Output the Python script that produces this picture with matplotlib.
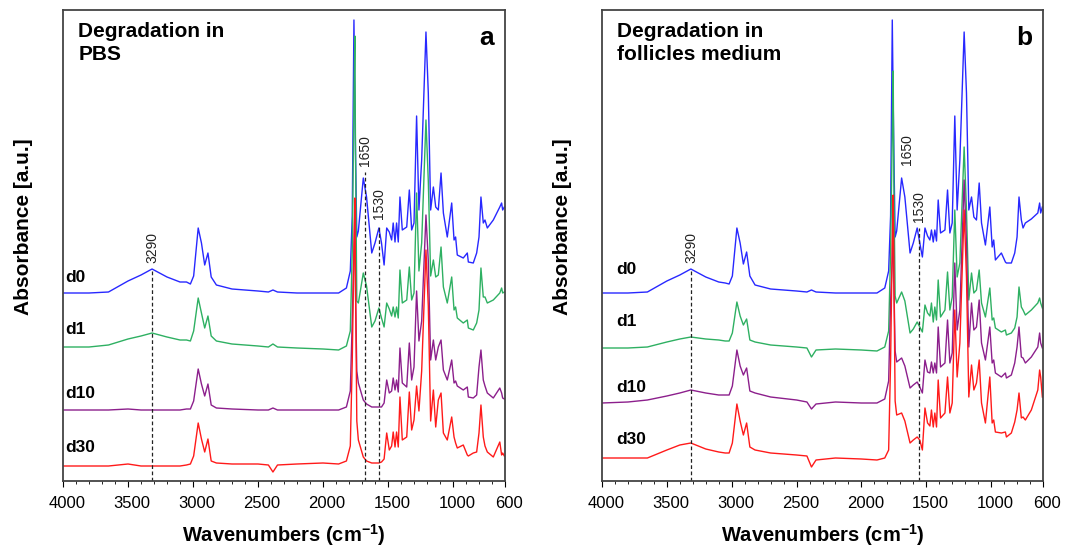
import matplotlib
matplotlib.use("Agg")
import matplotlib.pyplot as plt
from matplotlib.ticker import MultipleLocator
from matplotlib.transforms import ScaledTranslation

plt.rcParams['font.family'] = ['Liberation Sans', 'DejaVu Sans']
plt.rcParams['mathtext.fontset'] = 'custom'
plt.rcParams['mathtext.rm'] = 'Liberation Sans'
plt.rcParams['mathtext.bf'] = 'Liberation Sans:bold'

# Wavenumber grid (cm-1) shared by every spectrum
wavenumbers = [4000, 3800, 3650, 3500, 3400, 3315, 3200, 3100, 3050, 3020,
               2995, 2960, 2935, 2910, 2885, 2860, 2820, 2700, 2500, 2420,
               2385, 2350, 2200, 2000, 1880, 1820, 1790, 1775, 1762, 1755,
               1750, 1740, 1728, 1690, 1665, 1625, 1600, 1570, 1550, 1530,
               1510, 1490, 1472, 1460, 1446, 1434, 1421, 1408, 1390, 1356,
               1336, 1318, 1300, 1280, 1262, 1241, 1208, 1190, 1172, 1151,
               1133, 1113, 1092, 1074, 1044, 1010, 992, 980, 967, 921,
               890, 882, 844, 818, 800, 785, 767, 754, 736, 690,
               640, 626, 618, 605]

# Panel a: degradation in PBS (stacked absorbance, arbitrary units)
pbs_d0 = [188, 188, 189, 200, 206, 212, 204, 199, 199, 197,
          205, 253, 238, 216, 228, 204, 196, 192, 190, 189,
          191, 189, 188, 188, 188, 193, 210, 265, 461, 380,
          330, 244, 250, 303, 284, 228, 238, 253, 238, 216,
          253, 249, 241, 258, 239, 258, 239, 284, 251, 254,
          291, 251, 258, 365, 271, 321, 449, 388, 271, 294,
          274, 271, 308, 268, 244, 278, 241, 244, 226, 223,
          228, 219, 218, 228, 244, 284, 258, 261, 253, 261,
          274, 278, 271, 274]
pbs_d1 = [134, 134, 136, 142, 145, 148, 144, 141, 141, 140,
          150, 183, 168, 153, 165, 145, 140, 137, 135, 134,
          137, 134, 133, 132, 131, 135, 150, 230, 380, 445,
          330, 180, 178, 208, 195, 154, 160, 173, 163, 154,
          178, 172, 165, 174, 164, 174, 163, 211, 178, 181,
          214, 181, 188, 288, 210, 238, 361, 300, 205, 221,
          204, 206, 234, 194, 178, 204, 171, 174, 163, 158,
          161, 153, 151, 158, 171, 213, 184, 184, 178, 181,
          188, 193, 188, 189]
pbs_d10 = [71, 71, 71, 72, 71, 71, 71, 71, 72, 72,
           80, 112, 97, 85, 97, 76, 73, 72, 71, 71,
           73, 71, 71, 71, 71, 74, 90, 160, 230, 270,
           190, 110, 98, 81, 77, 74, 74, 74, 74, 78,
           101, 88, 90, 103, 91, 101, 89, 133, 98, 94,
           138, 101, 114, 190, 140, 160, 266, 220, 121, 141,
           121, 134, 141, 111, 101, 121, 98, 100, 95, 91,
           94, 84, 83, 86, 114, 131, 101, 95, 88, 83,
           93, 88, 83, 82]
pbs_d30 = [15, 15, 15, 17, 15, 15, 15, 15, 16, 17,
           25, 58, 42, 29, 42, 20, 18, 17, 17, 16,
           9, 16, 17, 18, 17, 20, 35, 120, 230, 283,
           200, 60, 41, 24, 20, 18, 18, 18, 19, 22,
           48, 31, 35, 49, 34, 49, 34, 84, 41, 44,
           89, 51, 61, 95, 70, 110, 231, 175, 60, 91,
           54, 81, 88, 48, 41, 64, 44, 38, 33, 36,
           26, 25, 28, 29, 48, 76, 44, 35, 29, 24,
           39, 26, 28, 25]

# Panel b: degradation in follicles medium
med_d0 = [188, 188, 189, 200, 206, 212, 204, 199, 198, 197,
          205, 253, 238, 217, 229, 205, 196, 192, 190, 189,
          191, 189, 188, 188, 188, 193, 210, 265, 461, 380,
          330, 244, 250, 303, 284, 228, 238, 253, 238, 224,
          253, 245, 241, 251, 239, 251, 240, 281, 248, 251,
          291, 248, 258, 365, 271, 321, 449, 388, 271, 284,
          264, 261, 298, 258, 236, 274, 234, 241, 221, 228,
          219, 218, 218, 228, 244, 284, 261, 253, 258, 262,
          268, 278, 268, 274]
med_d1 = [133, 133, 134, 139, 142, 144, 142, 141, 140, 140,
          148, 179, 165, 156, 162, 141, 139, 136, 134, 133,
          124, 131, 132, 131, 130, 134, 150, 230, 350, 410,
          300, 185, 178, 189, 180, 148, 152, 159, 154, 149,
          176, 168, 165, 178, 159, 174, 161, 201, 164, 171,
          209, 171, 184, 271, 204, 218, 334, 271, 181, 208,
          188, 191, 211, 178, 164, 193, 161, 163, 153, 149,
          151, 146, 148, 153, 164, 194, 174, 171, 166, 171,
          178, 183, 178, 173]
med_d10 = [78, 79, 81, 85, 88, 91, 88, 86, 86, 86,
           95, 131, 115, 106, 113, 90, 88, 84, 81, 79,
           72, 77, 79, 78, 78, 82, 100, 180, 220, 270,
           200, 130, 119, 123, 115, 93, 96, 99, 94, 88,
           121, 109, 108, 119, 108, 118, 108, 154, 114, 118,
           161, 118, 128, 218, 151, 171, 301, 238, 134, 178,
           151, 154, 181, 138, 121, 154, 118, 121, 108, 104,
           108, 103, 106, 118, 134, 154, 124, 123, 118, 124,
           134, 148, 138, 133]
med_d30 = [23, 23, 23, 31, 36, 38, 32, 29, 28, 28,
           38, 77, 60, 46, 58, 34, 31, 28, 26, 25,
           14, 21, 23, 22, 21, 23, 31, 120, 240, 286,
           210, 80, 66, 68, 60, 38, 41, 44, 41, 31,
           73, 58, 55, 71, 54, 68, 54, 101, 63, 68,
           104, 68, 78, 171, 104, 138, 271, 204, 84, 116,
           91, 98, 121, 78, 58, 104, 58, 61, 49, 48,
           49, 44, 48, 59, 71, 88, 63, 64, 61, 71,
           91, 111, 104, 84]

day_labels = ["d0", "d1", "d10", "d30"]
colors = ["#2828ff", "#2eb062", "#8c1f8c", "#ff1a1a"]

panels = [
    {
        "title": "Degradation in\nPBS", "tag": "a",
        "series": [pbs_d0, pbs_d1, pbs_d10, pbs_d30],
        "label_x": 3985, "label_y": [204, 152, 87, 34],
        # (drawn position, text, top of line, draw line?)
        "marks": [(3315, "3290", 212, True), (1677, "1650", 309, True), (1566, "1530", 256, True)],
    },
    {
        "title": "Degradation in\nfollicles medium", "tag": "b",
        "series": [med_d0, med_d1, med_d10, med_d30],
        "label_x": 3890, "label_y": [211, 159, 93, 41],
        "marks": [(3314, "3290", 212, True), (1648, "1650", 310, False), (1556, "1530", 253, True)],
    },
]

fig = plt.figure(figsize=(10.65, 5.47), dpi=100)
axes = [fig.add_axes([63 / 1065, 66 / 547, 442 / 1065, 471 / 547]),
        fig.add_axes([602 / 1065, 66 / 547, 441 / 1065, 471 / 547])]
shift = ScaledTranslation(4 / 100, 0, fig.dpi_scale_trans)

for ax, p in zip(axes, panels):
    for values, col in zip(p["series"], colors):
        ax.plot(wavenumbers, values, color=col, lw=1.0)

    for lab, y in zip(day_labels, p["label_y"]):
        ax.text(p["label_x"], y, lab, fontsize=12.5, fontweight='bold', va='center', ha='left')

    for wn, txt, top, draw in p["marks"]:
        if draw:
            ax.plot([wn, wn], [0, top], color='#222222', lw=0.9, ls=(0, (3, 2)))
        ax.text(wn, top + 6, txt, rotation=90, fontsize=10, color='#222222',
                ha='center', va='bottom')

    ax.text(0.035, 0.975, p["title"], transform=ax.transAxes, fontsize=15,
            fontweight='bold', va='top', ha='left', linespacing=1.25)
    ax.text(0.975, 0.925, p["tag"], transform=ax.transAxes, fontsize=19,
            fontweight='bold', va='baseline', ha='right')

    ax.set_xlim(4000, 600)
    ax.set_ylim(0, 471)
    ax.set_xticks([4000, 3500, 3000, 2500, 2000, 1500, 1000, 600])
    ax.xaxis.set_minor_locator(MultipleLocator(100))
    ax.tick_params(axis='x', which='major', direction='out', length=4, labelsize=12, pad=7)
    ax.tick_params(axis='x', which='minor', direction='out', length=2)
    for t in ax.get_xticklabels():
        t.set_transform(t.get_transform() + shift)
    ax.set_yticks([])
    for s in ax.spines.values():
        s.set_color('#444444')
        s.set_linewidth(1.3)

    ax.set_xlabel(r'Wavenumbers (cm$^{\mathbf{-1}}$)', fontsize=14.5, fontweight='bold', labelpad=8)
    ax.set_ylabel('Absorbance [a.u.]', fontsize=15, fontweight='bold')
    ax.yaxis.set_label_coords(-0.068, 0.54)

fig.savefig("out.png", dpi=100)
